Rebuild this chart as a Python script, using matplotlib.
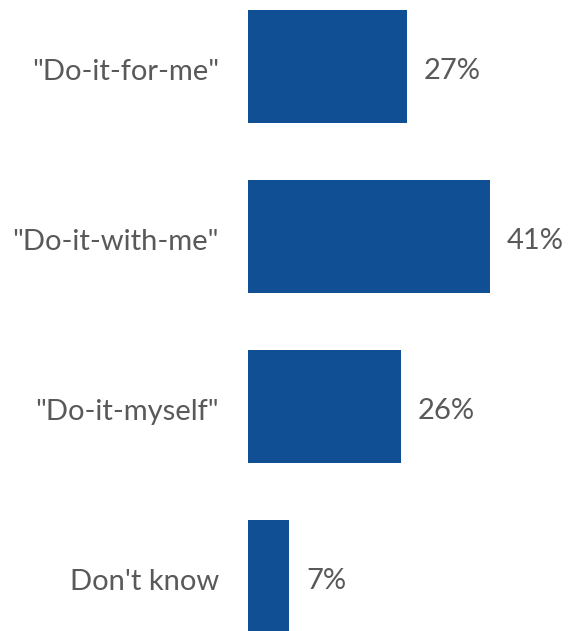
import matplotlib
matplotlib.use("Agg")
import matplotlib.pyplot as plt
from matplotlib.transforms import ScaledTranslation

categories = ['"Do-it-for-me"', '"Do-it-with-me"', '"Do-it-myself"', "Don't know"]
values = [27, 41, 26, 7]
value_labels = ["27%", "41%", "26%", "7%"]

bar_color = "#114F94"
text_color = "#595959"
font = ["Lato", "DejaVu Sans"]

fig = plt.figure(figsize=(5.70, 6.31), dpi=100)
ax = fig.add_axes([248/570, 0, 1 - 248/570, 1])
ypos = list(range(len(categories)))
ax.barh(ypos, values, height=0.665, color=bar_color)
ax.set_xlim(0, (570 - 248) / 5.9)
ax.set_ylim(3.321, -0.391)
for y, v, lab in zip(ypos, values, value_labels):
    ax.annotate(lab, (v, y), xytext=(12, -3), textcoords="offset points",
                va="center", ha="left", fontsize=21, color=text_color, family=font)
ax.set_yticks(ypos)
ax.set_yticklabels(categories, fontsize=21, color=text_color, family=font)
ax.tick_params(axis="y", length=0, pad=21)
shift = ScaledTranslation(0, -3/100, fig.dpi_scale_trans)
for t in ax.get_yticklabels():
    t.set_transform(t.get_transform() + shift)
ax.set_xticks([])
for s in ax.spines.values():
    s.set_visible(False)
fig.savefig("out.png", dpi=100)
